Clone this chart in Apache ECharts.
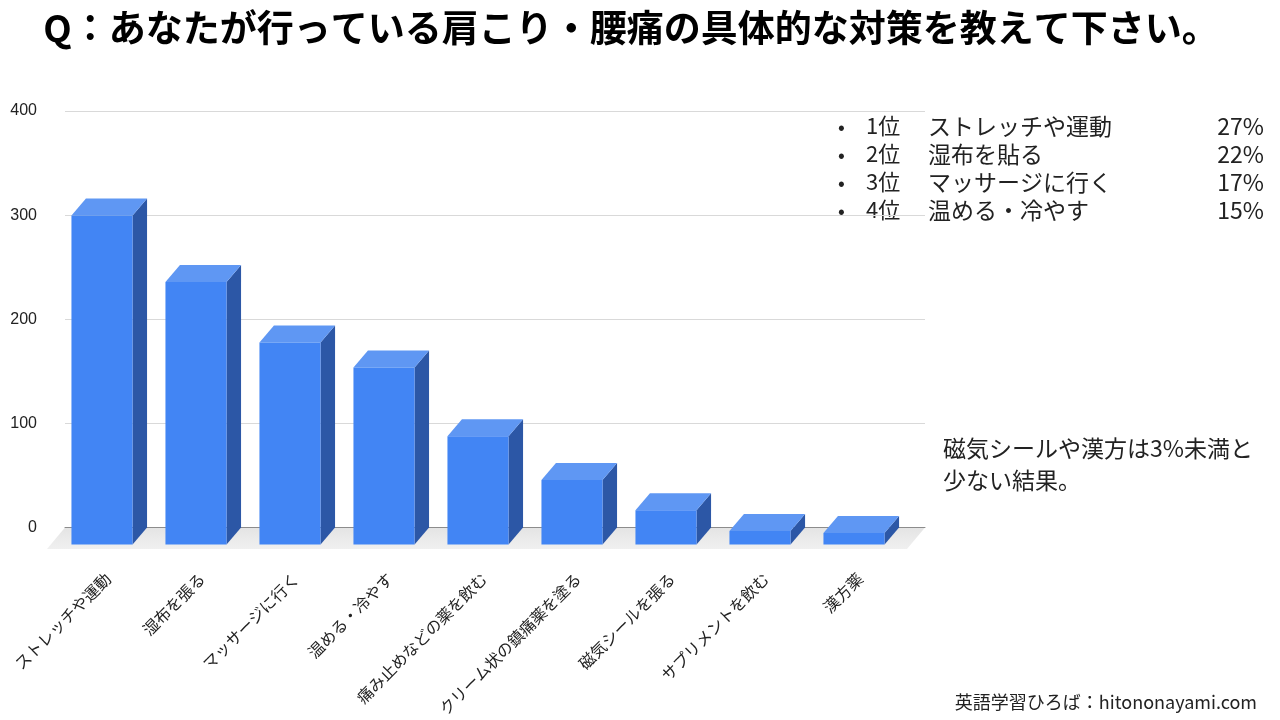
<!DOCTYPE html>
<html>
<head>
<meta charset="utf-8">
<script src="https://cdn.jsdelivr.net/npm/echarts@6/dist/echarts.min.js"></script>
<style>
  html, body { margin: 0; padding: 0; background: #fff; }
  #chart { width: 1280px; height: 720px; }
</style>
</head>
<body>
<div id="chart"></div>
<script>
// データ
var categories = ['ストレッチや運動', '湿布を張る', 'マッサージに行く', '温める・冷やす',
  '痛み止めなどの薬を飲む', 'クリーム状の鎮痛薬を塗る', '磁気シールを張る', 'サプリメントを飲む', '漢方薬'];
var counts = [316, 252, 194, 170, 104, 62, 33, 13, 11];
var yTicks = [0, 100, 200, 300, 400];

// ランキング表示
var rankNo = ['1位', '2位', '3位', '4位'];
var rankName = ['ストレッチや運動', '湿布を貼る', 'マッサージに行く', '温める・冷やす'];
var rankPct = ['27%', '22%', '17%', '15%'];
var noteLines = ['磁気シールや漢方は3%未満と', '少ない結果。'];

var titleText = 'Q：あなたが行っている肩こり・腰痛の具体的な対策を教えて下さい。';
var footerText = '英語学習ひろば：hitononayami.com';

var JP = '"Noto Sans CJK JP", sans-serif';
var FRONT = '#4285f4', TOP = '#5f97f3', SIDE = '#2c57a6';
var DX = 14.5, DY = 17; // 奥行き

var chart = echarts.init(document.getElementById('chart'));

// 3D風の棒
function renderBar(params, api) {
  var top = api.coord([api.value(0), api.value(1)]);
  var base = api.coord([api.value(0), 0]);
  var w = api.size([1, 0])[0] * 0.65;
  var x0 = top[0] - w / 2, x1 = top[0] + w / 2;
  var fx0 = x0 - DX, fx1 = x1 - DX;
  var fTop = top[1] + DY, fBot = base[1] + DY;
  return {
    type: 'group',
    children: [
      { type: 'polygon', shape: { points: [[fx1, fTop], [x1, top[1]], [x1, base[1]], [fx1, fBot]] }, style: { fill: SIDE } },
      { type: 'polygon', shape: { points: [[fx0, fTop], [x0, top[1]], [x1, top[1]], [fx1, fTop]] }, style: { fill: TOP } },
      { type: 'rect', shape: { x: fx0, y: fTop, width: w, height: fBot - fTop }, style: { fill: FRONT } }
    ]
  };
}

// 床
function renderFloor(params, api) {
  var l = api.coord([0, 0]);
  var r = api.coord([1, 0]);
  var d = 21.5, s = 18;
  return {
    type: 'polygon',
    shape: { points: [[l[0], l[1]], [r[0], r[1]], [r[0] - s, r[1] + d], [l[0] - s, l[1] + d]] },
    style: {
      fill: new echarts.graphic.LinearGradient(0, 0, 0, 1, [
        { offset: 0, color: '#e4e4e4' },
        { offset: 1, color: '#f0f0f0' }
      ])
    }
  };
}

var graphics = [
  { type: 'text', x: 631, y: 28, style: { text: titleText, font: 'bold 37px ' + JP, fill: '#000', textAlign: 'center', textVerticalAlign: 'middle' } },
  { type: 'text', x: 1257, y: 702, style: { text: footerText, font: '18px ' + JP, fill: '#222', textAlign: 'right', textVerticalAlign: 'middle' } }
];
rankNo.forEach(function (n, i) {
  var y = 126 + i * 28;
  graphics.push({ type: 'text', x: 838, y: y, style: { text: '•', font: '20px ' + JP, fill: '#222', textAlign: 'left', textVerticalAlign: 'middle' } });
  graphics.push({ type: 'text', x: 866, y: y, style: { text: n, font: '22px ' + JP, fill: '#222', textAlign: 'left', textVerticalAlign: 'middle' } });
  graphics.push({ type: 'text', x: 928, y: y, style: { text: rankName[i], font: '23px ' + JP, fill: '#222', textAlign: 'left', textVerticalAlign: 'middle' } });
  graphics.push({ type: 'text', x: 1264, y: y, style: { text: rankPct[i], font: '23px ' + JP, fill: '#222', textAlign: 'right', textVerticalAlign: 'middle' } });
});
noteLines.forEach(function (t, i) {
  graphics.push({ type: 'text', x: 943, y: 448 + i * 32, style: { text: t, font: '23px ' + JP, fill: '#222', textAlign: 'left', textVerticalAlign: 'middle' } });
});

var option = {
  animation: false,
  grid: [
    { left: 65, right: 355, top: 111, bottom: 192.5 },
    { left: 69.5, right: 364.5, top: 111, bottom: 192.5 }
  ],
  xAxis: [
    {
      gridIndex: 0, type: 'value', min: 0, max: 1,
      axisLine: { show: true, onZero: false, lineStyle: { color: '#8c8c8c', width: 1 } },
      axisTick: { show: false }, axisLabel: { show: false }, splitLine: { show: false }
    },
    {
      gridIndex: 1, type: 'category', data: categories,
      axisLine: { show: false }, axisTick: { show: false }, splitLine: { show: false },
      axisLabel: {
        interval: 0, rotate: 45, margin: 40, padding: [0, 12, 0, 0],
        fontFamily: JP, fontSize: 16, color: '#222'
      }
    }
  ],
  yAxis: [
    {
      gridIndex: 0, type: 'value', min: yTicks[0], max: yTicks[yTicks.length - 1], interval: 100,
      axisLine: { show: false }, axisTick: { show: false },
      axisLabel: { margin: 28, fontFamily: 'Liberation Sans, Arial, sans-serif', fontSize: 16, color: '#222' },
      splitLine: { lineStyle: { color: '#d9d9d9', width: 1 } }
    },
    {
      gridIndex: 1, type: 'value', min: yTicks[0], max: yTicks[yTicks.length - 1], interval: 100,
      show: false, splitLine: { show: false }
    }
  ],
  series: [
    {
      type: 'custom', xAxisIndex: 0, yAxisIndex: 0, z: -1,
      renderItem: renderFloor, data: [[0, 0]], silent: true
    },
    {
      type: 'custom', xAxisIndex: 1, yAxisIndex: 1, z: 3,
      renderItem: renderBar,
      data: counts.map(function (v, i) { return [i, v]; })
    }
  ],
  graphic: graphics
};

chart.setOption(option);
</script>
</body>
</html>
